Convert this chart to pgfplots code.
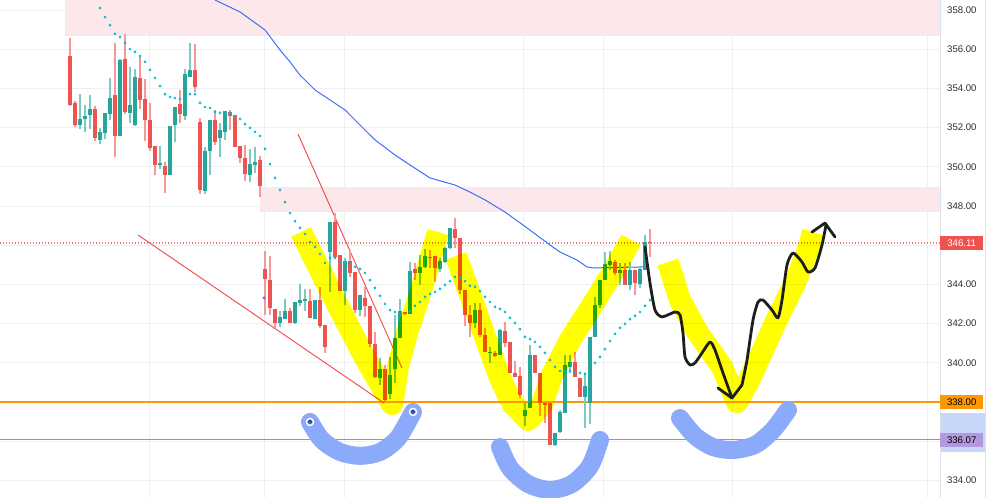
\documentclass[border=0pt]{standalone}
\usepackage{pgfplots}
\pgfplotsset{compat=1.18}
\usepackage{pgfplotstable}
\usepackage{fontspec}
\setmainfont{Liberation Sans}

\definecolor{upc}{RGB}{38,166,154}
\definecolor{dnc}{RGB}{239,83,80}
\definecolor{zone}{RGB}{252,232,234}
\definecolor{gridc}{RGB}{238,240,244}
\definecolor{maline}{RGB}{60,110,255}
\definecolor{dotc}{RGB}{0,188,212}
\definecolor{hl}{RGB}{255,255,0}
\definecolor{arcc}{RGB}{140,170,250}
\definecolor{ink}{RGB}{30,30,30}
\definecolor{trend}{RGB}{242,84,90}
\definecolor{orng}{RGB}{255,152,0}
\definecolor{purp}{RGB}{178,152,222}
\definecolor{purpline}{RGB}{165,130,230}
\definecolor{band}{RGB}{200,214,250}
\definecolor{axc}{RGB}{222,225,232}
\definecolor{lbl}{RGB}{45,45,50}

% candles: index, open, high, low, close
\pgfplotstableread{
k o h l c
0 355.65 356.56 353.10 353.15
1 353.24 353.36 352.05 352.14
2 352.14 353.70 351.93 352.44
3 352.42 353.15 351.80 352.60
4 352.65 353.67 351.93 352.93
5 352.95 353.12 351.34 351.46
6 351.37 352.00 351.15 351.80
7 351.71 352.76 351.40 352.76
8 352.70 354.55 352.40 353.53
9 353.65 356.33 350.52 351.57
10 351.57 355.50 351.57 355.45
11 355.50 356.76 352.70 352.80
12 352.73 355.10 352.25 353.14
13 352.14 354.97 352.08 354.60
14 354.55 355.60 352.95 353.41
15 353.48 354.46 351.29 352.39
16 352.39 353.27 350.78 350.98
17 351.06 351.06 349.60 350.10
18 350.10 351.06 349.90 350.20
19 350.04 350.26 348.65 349.59
20 349.59 352.08 349.59 352.08
21 352.14 353.04 351.24 353.04
22 353.20 353.92 352.25 352.70
23 352.61 354.97 352.39 354.72
24 354.60 356.30 354.60 354.94
25 354.94 356.25 353.84 354.09
26 352.30 352.47 348.60 348.82
27 348.74 351.03 348.60 350.81
28 350.83 352.39 349.60 352.39
29 352.39 352.90 351.12 351.29
30 351.46 352.25 350.49 351.90
31 351.78 352.85 351.37 352.85
32 352.78 352.90 351.90 352.60
33 352.65 352.65 351.03 351.03
34 351.06 351.06 350.20 350.47
35 350.44 351.12 349.30 349.64
36 349.59 350.90 349.20 350.15
37 350.10 351.00 349.70 350.22
38 350.35 350.55 348.48 349.02
39 344.77 345.70 342.44 344.26
40 344.23 345.45 342.44 342.78
41 342.75 342.75 341.76 342.05
42 342.02 342.64 341.80 342.32
43 342.25 343.26 342.22 342.66
44 342.66 342.78 342.05 342.05
45 342.02 343.12 341.97 343.09
46 343.07 344.02 342.90 343.20
47 343.18 343.75 342.64 343.24
48 343.17 343.75 342.30 342.30
49 342.24 343.20 342.24 343.20
50 343.20 343.85 341.80 341.88
51 341.91 341.91 340.49 340.83
52 345.67 347.20 343.63 347.20
53 347.20 347.63 345.42 345.42
54 345.50 345.50 343.68 343.68
55 343.68 345.33 342.95 345.20
56 345.20 345.76 344.36 344.57
57 344.65 344.65 342.53 342.70
58 342.70 343.46 342.40 343.46
59 343.29 343.85 342.32 342.90
60 342.90 342.90 340.83 340.96
61 340.96 341.59 339.20 339.26
62 339.20 340.23 338.87 339.67
63 339.67 339.90 337.99 338.10
64 338.41 340.30 338.16 339.40
65 339.67 342.44 338.99 341.25
66 341.25 343.24 341.25 342.66
67 342.60 342.60 342.45 342.50
68 342.50 345.16 342.50 344.70
69 344.79 345.07 344.23 344.60
70 344.57 345.50 343.97 344.87
71 344.87 345.80 344.82 345.45
72 345.42 345.76 344.82 345.33
73 345.45 345.45 344.14 344.82
74 344.77 345.33 344.65 345.20
75 345.16 345.90 345.10 345.87
76 345.84 346.86 345.80 346.86
77 346.83 347.37 345.84 346.35
78 346.35 346.35 343.50 343.72
79 343.72 343.72 341.88 342.44
80 342.44 342.95 341.33 342.02
81 342.02 343.04 341.76 342.70
82 342.70 343.04 341.33 341.42
83 341.42 341.76 340.57 340.57
84 340.50 340.79 339.97 340.56
85 340.48 340.60 340.30 340.35
86 340.40 341.72 340.40 341.68
87 341.64 342.10 340.79 341.03
88 341.08 341.08 339.47 339.47
89 339.50 340.11 339.26 339.26
90 339.33 339.80 338.19 338.36
91 337.26 337.97 336.75 337.60
92 337.68 340.90 337.68 340.40
93 340.40 340.40 339.47 339.47
94 339.47 339.47 337.26 337.94
95 337.94 338.02 336.91 337.85
96 337.94 337.94 335.81 335.81
97 335.81 336.44 335.75 336.44
98 336.49 337.60 336.40 337.51
99 337.43 340.40 337.43 339.89
100 339.80 340.40 339.47 340.06
101 340.06 340.57 339.26 339.26
102 339.21 339.21 338.27 338.27
103 338.24 339.47 336.66 338.84
104 337.94 341.34 336.90 341.34
105 341.30 343.34 341.30 342.95
106 342.95 344.23 342.78 344.23
107 344.23 345.67 344.23 345.02
108 345.00 345.72 344.74 345.21
109 345.16 345.25 344.48 344.57
110 344.57 345.07 343.97 344.74
111 344.74 345.07 343.97 343.97
112 343.97 345.16 343.72 344.74
113 344.74 344.74 343.46 344.05
114 344.02 344.90 343.80 344.77
115 344.74 346.52 344.74 346.18
116 346.18 346.81 345.40 346.11
}\candles

\begin{document}
\begin{tikzpicture}
\begin{axis}[
  at={(0,0)}, anchor=south west,
  scale only axis, width=940bp, height=498bp,
  xmin=-14, xmax=174, ymin=333.10, ymax=358.51,
  axis line style={draw=none},
  tick style={draw=none},
  xtick={15.8,38.8,54.8,90.6,106.6,132.4,171.4},
  xticklabels={},
  ytick={334,336,...,358},
  yticklabels={334.00,,,340.00,342.00,344.00,,348.00,350.00,352.00,354.00,356.00,358.00},
  yticklabel pos=right,
  yticklabel style={anchor=west, inner sep=0pt, xshift=7bp, text=lbl,
    font=\fontsize{9.6bp}{11bp}\selectfont},
  xmajorgrids, ymajorgrids,
  grid style={gridc, line width=0.8bp},
]
% supply and demand zones
\addplot[fill=zone, draw=none, forget plot] coordinates {(-1,358.6) (174,358.6) (174,356.67) (-1,356.67)} -- cycle;
\addplot[fill=zone, draw=none, forget plot] coordinates {(38,348.97) (174,348.97) (174,347.69) (38,347.69)} -- cycle;

% horizontal levels
\addplot[dnc!80!white, line width=1.1bp, dash pattern=on 1.2bp off 1.8bp, forget plot] coordinates {(-14,346.11) (174,346.11)};
\addplot[orng, line width=1.4bp, forget plot] coordinates {(-14,338.00) (174,338.00)};
\addplot[purpline, line width=1.2bp, forget plot] coordinates {(-14,336.07) (174,336.07)};

% trend lines
\addplot[trend, line width=1bp, forget plot] coordinates {(45.6,351.67) (66.4,339.73)};
\addplot[trend, line width=1bp, forget plot] coordinates {(13.6,346.52) (62.8,337.95)};

% moving average
\addplot[maline, line width=1bp, forget plot] coordinates {
(29,358.51) (34,357.90) (39,356.98) (42,355.96) (44,355.35) (46,354.68)
(49,353.92) (52,353.41) (55,352.90) (58,352.13) (61,351.37) (65,350.60)
(68,350.09) (72,349.43) (77,349.07) (80,348.71) (83,348.31) (87,347.69)
(90.6,347.03) (96,346.01) (98,345.65) (101.4,345.24) (103.4,344.89)
(104.6,344.84) (114.6,344.89) (115.4,344.99)};

% wicks
\addplot[forget plot, draw=none, mark=none,
  restrict expr to domain={\thisrow{c}-\thisrow{o}}{0:100},
  error bars/.cd, y dir=both, y explicit, error mark=none,
  error bar style={draw=upc!60!white, line width=1.3bp}]
  table[x=k, y expr={(\thisrow{h}+\thisrow{l})/2}, y error expr={(\thisrow{h}-\thisrow{l})/2}] {\candles};
\addplot[forget plot, draw=none, mark=none,
  restrict expr to domain={\thisrow{o}-\thisrow{c}}{0:100},
  error bars/.cd, y dir=both, y explicit, error mark=none,
  error bar style={draw=dnc!60!white, line width=1.3bp}]
  table[x=k, y expr={(\thisrow{h}+\thisrow{l})/2}, y error expr={(\thisrow{h}-\thisrow{l})/2}] {\candles};
% bodies
\addplot[forget plot, draw=none, mark=none,
  restrict expr to domain={\thisrow{c}-\thisrow{o}}{0:100},
  error bars/.cd, y dir=both, y explicit, error mark=none,
  error bar style={draw=upc, line width=3.8bp}]
  table[x=k, y expr={(\thisrow{o}+\thisrow{c})/2}, y error expr={abs(\thisrow{c}-\thisrow{o})/2}] {\candles};
\addplot[forget plot, draw=none, mark=none,
  restrict expr to domain={\thisrow{o}-\thisrow{c}}{0:100},
  error bars/.cd, y dir=both, y explicit, error mark=none,
  error bar style={draw=dnc, line width=3.8bp}]
  table[x=k, y expr={(\thisrow{o}+\thisrow{c})/2}, y error expr={abs(\thisrow{c}-\thisrow{o})/2}] {\candles};

% trailing dots
\addplot[only marks, mark=*, mark size=1.2bp, dotc, forget plot] coordinates {
(6,358.10) (7,357.64) (8,357.23) (9,356.78) (10,356.62) (11,356.32) (12,356.01)
(13,355.86) (14,355.65) (15,355.35) (16,354.94) (17,354.53) (18,354.12) (19,353.71)
(20,353.56) (21,353.51) (22,353.46) (23,353.56) (24,353.71) (25,353.71) (26,353.26)
(27,353.05) (28,353.00) (29,352.80) (30,352.75) (31,352.75) (32,352.75) (33,352.59)
(34,352.44) (35,352.18) (36,351.98) (37,351.78) (38,351.57) (39,350.91) (40,350.14)
(41,349.43) (42,348.82) (43,348.20) (44,347.64) (45,347.23) (46,346.88) (47,346.57)
(48,346.16) (49,345.91) (50,345.55) (51,345.09) (52,345.35) (53,345.35) (54,345.14)
(55,345.14) (56,345.09) (57,344.89) (58,344.79) (59,344.58) (60,344.22) (61,343.82)
(62,343.41) (63,343.00) (64,342.69) (65,342.59)
(68,342.64) (69,342.90) (70,343.10) (71,343.36) (72,343.51) (73,343.61) (74,343.77)
(75,343.97) (76,344.17) (77,344.38)
(78,344.33) (79,344.17) (80,343.92) (81,343.87) (82,343.66) (83,343.36) (84,343.10)
(85,342.85) (86,342.75) (87,342.59) (88,342.29) (89,342.03) (90,341.72) (91,341.32)
(92,341.21) (93,341.06) (94,340.81) (95,340.50) (96,340.14) (97,339.79) (98,339.58)
(99,339.58) (100,339.58) (101,339.53) (102,339.48) (103,339.43)
(105,339.99) (106,340.30) (107,340.70) (108,341.11) (109,341.47) (110,341.78)
(111,341.98) (112,342.23) (113,342.39) (114,342.59) (115,342.90) (116,343.20)};
\addplot[only marks, mark=*, mark size=1.3bp, maline, forget plot] coordinates {(38.8,343.31)};

% highlighter strokes
\addplot[hl, line width=22bp, line join=round, blend mode=multiply, forget plot] coordinates {
(46.2,346.67) (53,343.20) (59,340.25) (64.4,337.90) (65.6,339.79) (67.4,341.52)
(69.6,343.20) (71.6,344.89) (73.6,346.67)};
\addplot[hl, line width=22bp, line join=round, blend mode=multiply, forget plot] coordinates {
(77.2,345.45) (80.4,343.20) (83.6,340.91) (86,339.22) (88.4,337.95) (91.6,337.08)
(94.4,337.85) (96.4,339.38) (100,341.16) (105.4,343.31) (109.4,344.99) (112.2,346.27)};
\addplot[hl, line width=22bp, line join=round, blend mode=multiply, forget plot] coordinates {
(119.6,345.14) (122,343.20) (125.6,341.52) (130.4,339.79) (133.4,338.00) (135.6,338.97)
(138.6,340.65) (141.6,342.34) (145,344.07) (147.6,345.76) (148.6,346.67)};

% smile arcs
\addplot[arcc, line width=18bp, line cap=round, smooth, forget plot] coordinates {
(48,336.98) (50.4,336.06) (54,335.45) (58,335.25) (62,335.45) (65.6,336.16) (68.6,337.49)};
\addplot[arcc, line width=18bp, line cap=round, smooth, forget plot] coordinates {
(86,335.70) (88,334.63) (91.6,333.82) (96,333.51) (100.4,333.82) (104,334.73) (106,336.06)};
\addplot[arcc, line width=18bp, line cap=round, smooth, forget plot] coordinates {
(122,337.18) (125,336.27) (128.6,335.70) (132.6,335.55) (137,335.81) (140.6,336.57) (143.6,337.59)};
\addplot[only marks, mark=o, mark size=3.6bp, mark options={white, line width=1.3bp}, forget plot]
  coordinates {(48,336.98) (68.6,337.49)};
\addplot[only marks, mark=*, mark size=1.7bp, mark options={fill=arcc!70!blue, draw=none}, forget plot]
  coordinates {(48,336.98) (68.6,337.49)};

% hand-drawn path
\addplot[ink, line width=2.8bp, line join=round, line cap=round, smooth, tension=0.4, forget plot] coordinates {
(115,345.91) (116,344.07) (117,342.69) (118.4,342.34) (121,342.59) (122,342.44)
(122.6,341.52) (123,340.30) (124,339.89) (125,339.99) (126.4,340.50) (128,341.06)
(129,340.65) (130.6,339.48) (132.4,338.20)};
\addplot[ink, line width=2.8bp, line join=round, line cap=round, forget plot] coordinates {
(129.6,338.71) (132.4,338.20) (134.4,338.87)};
\addplot[ink, line width=2.8bp, line join=round, line cap=round, smooth, tension=0.4, forget plot] coordinates {
(134.4,338.87) (135.4,340.14) (136.6,342.18) (137.6,343.10) (138.6,343.20) (140.4,342.69)
(141.6,342.29) (142.4,343.20) (143.4,344.99) (144.6,345.60) (146.4,345.14) (147.6,344.63)
(149,344.84) (150.4,346.01) (151.2,347.03)};
\addplot[ink, line width=2.8bp, line join=round, line cap=round, forget plot] coordinates {
(148.4,346.67) (151,347.13) (153,346.42)};

\coordinate (p346) at (axis cs:174,346.11);
\coordinate (p338) at (axis cs:174,338.00);
\coordinate (p336) at (axis cs:174,336.07);
\coordinate (bA) at (axis cs:174,337.44);
\coordinate (bB) at (axis cs:183,335.45);
\coordinate (rb1) at (axis cs:183,333.10);
\coordinate (rb2) at (axis cs:183,358.51);
\end{axis}

\fill[band] (bA) rectangle (bB);
\draw[axc, line width=1bp] (current axis.south east) -- (current axis.north east);
\draw[axc, line width=0.8bp] (rb1) -- (rb2);
\tikzset{lab/.style={anchor=west, minimum width=43bp, minimum height=14bp, inner sep=0pt,
  font=\fontsize{9.6bp}{11bp}\selectfont}}
\node[lab, fill=dnc, text=white] at (p346) {346.11};
\node[lab, fill=orng, text=black] at (p338) {338.00};
\node[lab, fill=purp, text=black] at (p336) {336.07};

\pgfresetboundingbox
\path (0,0) rectangle (987bp,498bp);
\end{tikzpicture}
\end{document}
